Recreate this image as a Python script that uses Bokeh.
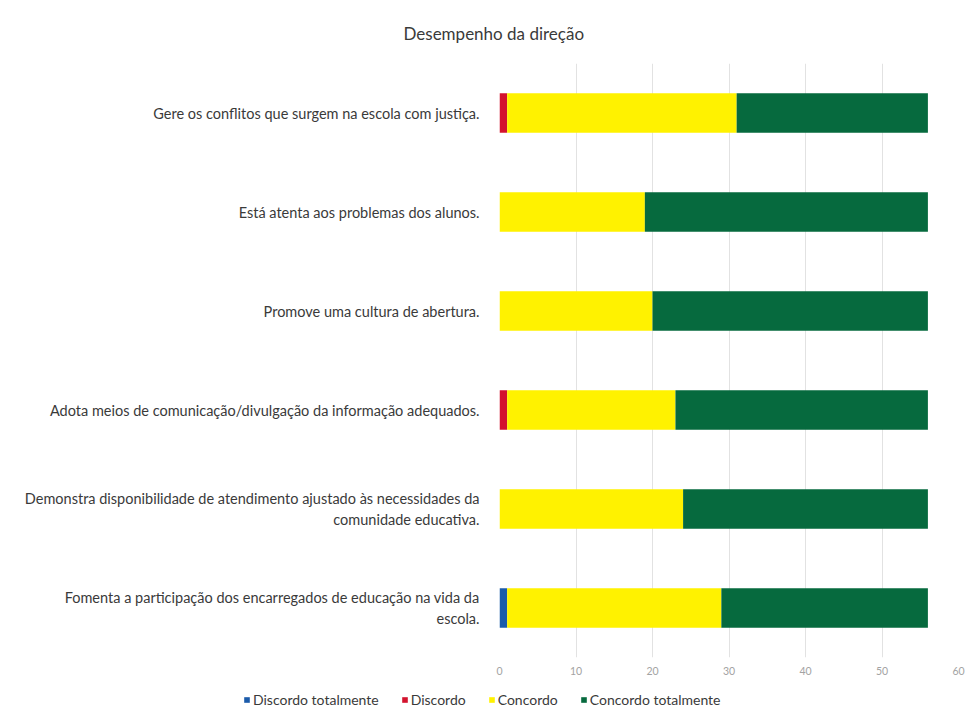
from bokeh.plotting import figure
from bokeh.layouts import column, row
from bokeh.models import ColumnDataSource, FactorRange, Range1d, Legend, LegendItem, FixedTicker
from bokeh.embed import file_html
from bokeh.resources import INLINE

title = "Desempenho da direção"
categories = [
    "Gere os conflitos que surgem na escola com justiça.",
    "Está atenta aos problemas dos alunos.",
    "Promove uma cultura de abertura.",
    "Adota meios de comunicação/divulgação da informação adequados.",
    "Demonstra disponibilidade de atendimento ajustado às necessidades da\ncomunidade educativa.",
    "Fomenta a participação dos encarregados de educação na vida da\nescola.",
]
series = ["Discordo totalmente", "Discordo", "Concordo", "Concordo totalmente"]
discordo_totalmente = [0, 0, 0, 0, 0, 1]
discordo = [1, 0, 0, 1, 0, 0]
concordo = [30, 19, 20, 22, 24, 28]
concordo_totalmente = [25, 37, 36, 33, 32, 27]
colors = ["#1B5BAA", "#D3132E", "#FFF200", "#066A3E"]
x_ticks = [0, 10, 20, 30, 40, 50, 60]

FONT = "Lato"
TXT = "#3A3A3A"

source = ColumnDataSource(dict(
    cat=categories,
    **{series[0]: discordo_totalmente, series[1]: discordo,
       series[2]: concordo, series[3]: concordo_totalmente}))

p = figure(width=965, height=688, output_backend="svg", toolbar_location=None,
           y_range=FactorRange(*reversed(categories), range_padding=0),
           x_range=Range1d(0, 60),
           min_border_left=499, min_border_right=7, min_border_top=60, min_border_bottom=31)
p.outline_line_color = None

renderers = p.hbar_stack(series, y="cat", height=0.4, source=source,
                         color=colors, line_color=None)

p.title.text = title
p.title.align = "left"
p.title.offset = -96
p.title.standoff = 40
p.title.text_font = FONT
p.title.text_font_size = "17px"
p.title.text_color = TXT
p.title.text_font_style = "normal"

p.xaxis.ticker = FixedTicker(ticks=x_ticks)
p.xaxis.axis_line_color = None
p.xaxis.major_tick_line_color = None
p.xaxis.minor_tick_line_color = None
p.xaxis.major_label_text_color = "#A3A3A3"
p.xaxis.major_label_text_font = FONT
p.xaxis.major_label_text_font_size = "10.5px"
p.xaxis.major_label_standoff = 3

p.yaxis.axis_line_color = None
p.yaxis.major_tick_line_color = None
p.yaxis.minor_tick_line_color = None
p.yaxis.major_label_text_color = TXT
p.yaxis.major_label_text_font = FONT
p.yaxis.major_label_text_font_size = "14.5px"
p.yaxis.major_label_standoff = 14

p.ygrid.grid_line_color = None
p.xgrid.grid_line_color = "#E2E2E2"
p.xgrid.grid_line_width = 1

# legend strip below the chart (hidden proxy glyphs carry the legend swatches)
q = figure(width=965, height=27, output_backend="svg", toolbar_location=None,
           x_range=Range1d(0, 1), y_range=Range1d(0, 1), min_border=0)
q.axis.visible = False
q.grid.visible = False
q.outline_line_color = None
proxies = []
for c in colors:
    r = q.hbar(y=[0.5], left=[0], right=[0], height=0, color=c, line_color=None)
    r.visible = False
    proxies.append(r)
legend = Legend(items=[LegendItem(label=s, renderers=[r]) for s, r in zip(series, proxies)],
                orientation="horizontal", location=(243, 7),
                label_text_font=FONT, label_text_font_size="14px", label_text_color=TXT,
                glyph_width=7, glyph_height=7, spacing=22, padding=0, margin=0,
                label_standoff=3, border_line_color=None, background_fill_alpha=0,
                inactive_fill_alpha=0)
q.add_layout(legend, "center")

layout = column(p, row(q), spacing=0)
open("out.html", "w").write(file_html(layout, INLINE))
